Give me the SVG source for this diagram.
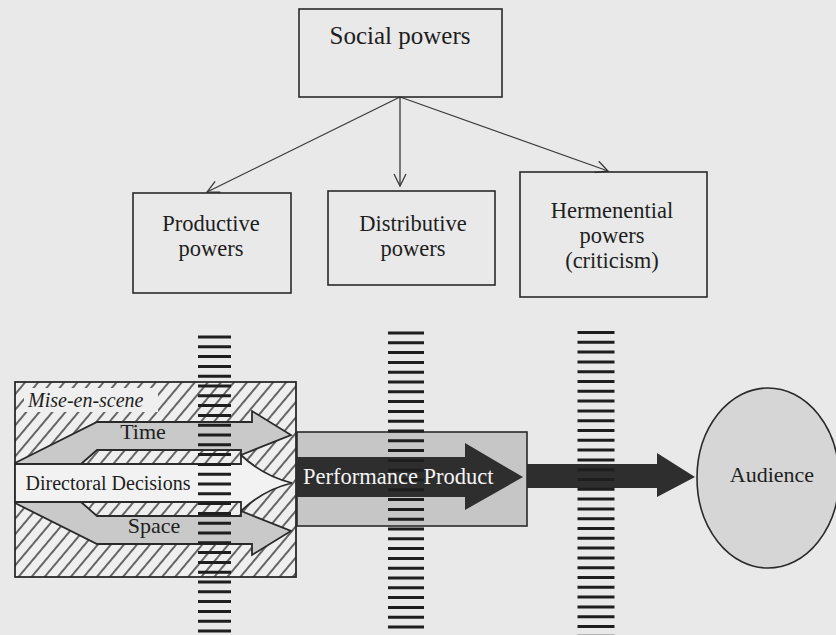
<svg xmlns="http://www.w3.org/2000/svg" width="836" height="635" viewBox="0 0 836 635">
<defs>
<style>
.box{fill:none;stroke:#2a2a2a;stroke-width:1.6}
.t{font-family:'Liberation Serif','Times New Roman',serif;fill:#1e1e1e}
.lbl{font-size:22.5px}
.edge{stroke:#3a3a3a;stroke-width:1.3;fill:none}
.gray{fill:#c9c9c9;stroke:#2a2a2a;stroke-width:1.8;stroke-linejoin:miter}
.dark{fill:#2e2e2e}
.ladder{stroke:#1e1e1e;stroke-dasharray:3 6.8;fill:none}
</style>
<pattern id="hatch" patternUnits="userSpaceOnUse" width="10" height="10" patternTransform="rotate(40)">
<rect width="10" height="10" fill="#efefef"/>
<line x1="5" y1="0" x2="5" y2="10" stroke="#2a2a2a" stroke-width="1.4"/>
</pattern>
<marker id="open" markerUnits="userSpaceOnUse" markerWidth="16" markerHeight="16" refX="13" refY="7" orient="auto">
<path d="M1,1 L13,7 L1,13" fill="none" stroke="#3a3a3a" stroke-width="1.3"/>
</marker>
</defs>
<rect width="836" height="635" fill="#e9e9e9"/>

<g id="connectors">
<line class="edge" x1="400" y1="97" x2="207" y2="192" marker-end="url(#open)"/>
<line class="edge" x1="400" y1="97" x2="400" y2="186" marker-end="url(#open)"/>
<line class="edge" x1="400" y1="97" x2="608" y2="171" marker-end="url(#open)"/>
<path class="dark" d="M526,464 L657,464 L657,453 L695,477 L657,497 L657,488 L526,488 Z"/>
</g>

<g id="social-powers">
<rect class="box" x="299" y="9" width="203" height="88"/>
<text class="t" x="400" y="44" font-size="25" text-anchor="middle">Social powers</text>
</g>

<g id="productive-powers">
<rect class="box" x="133" y="193" width="158" height="100"/>
<text class="t lbl" x="211" y="231" text-anchor="middle">Productive</text>
<text class="t lbl" x="211" y="256" text-anchor="middle">powers</text>
</g>

<g id="distributive-powers">
<rect class="box" x="328" y="191" width="167" height="94"/>
<text class="t lbl" x="413" y="231" text-anchor="middle">Distributive</text>
<text class="t lbl" x="413" y="256" text-anchor="middle">powers</text>
</g>

<g id="hermenential-powers">
<rect class="box" x="520" y="172" width="187" height="125"/>
<text class="t lbl" x="612" y="218" text-anchor="middle">Hermenential</text>
<text class="t lbl" x="612" y="243" text-anchor="middle">powers</text>
<text class="t lbl" x="612" y="268" text-anchor="middle">(criticism)</text>
</g>

<g id="mise-en-scene">
<rect x="15" y="382" width="281" height="195" fill="url(#hatch)" stroke="#2a2a2a" stroke-width="1.8"/>
<rect x="24" y="388" width="134" height="24" fill="#efefef"/>
<text class="t" x="28" y="407" font-size="20" font-style="italic">Mise-en-scene</text>
<path class="gray" d="M15,463 L97,422 L252,422 L252,411 L291,435 L241,455 L241,450 L97,450 L81,464 L15,464 Z"/>
<path class="gray" d="M15,503 L97,544 L252,544 L252,555 L291,531 L241,511 L241,516 L97,516 L81,502 L15,502 Z"/>
<path d="M15,464 L241,464 L241,455 Q263,476 292,483 Q263,490 241,511 L241,502 L15,502 Z" fill="#f2f2f2" stroke="#2a2a2a" stroke-width="1.8"/>
<text class="t" x="143" y="439" font-size="22" text-anchor="middle">Time</text>
<text class="t" x="108" y="490" font-size="20" text-anchor="middle">Directoral Decisions</text>
<text class="t" x="154" y="533" font-size="22" text-anchor="middle">Space</text>
</g>

<g id="performance-product">
<rect x="297" y="432" width="230" height="94" fill="#c6c6c6" stroke="#2a2a2a" stroke-width="1.6"/>
<path class="dark" d="M297,457 L465,457 L465,443 L523,477 L465,510 L465,497 L297,497 Z"/>
</g>

<g id="ladders">
<line class="ladder" x1="214.5" y1="335.5" x2="214.5" y2="636" stroke-width="33"/>
<line class="ladder" x1="406" y1="331.5" x2="406" y2="636" stroke-width="36"/>
<line class="ladder" x1="596" y1="331" x2="596" y2="636" stroke-width="37"/>
</g>

<g id="performance-product-label">
<text x="303" y="484" font-size="22.5" font-family="'Liberation Serif','Times New Roman',serif" fill="#f4f4f4">Performance Product</text>
</g>

<g id="audience">
<ellipse cx="768" cy="478" rx="71" ry="90" fill="#d6d6d6" stroke="#2a2a2a" stroke-width="1.6"/>
<text class="t" x="772" y="482" font-size="22" text-anchor="middle">Audience</text>
</g>
</svg>
